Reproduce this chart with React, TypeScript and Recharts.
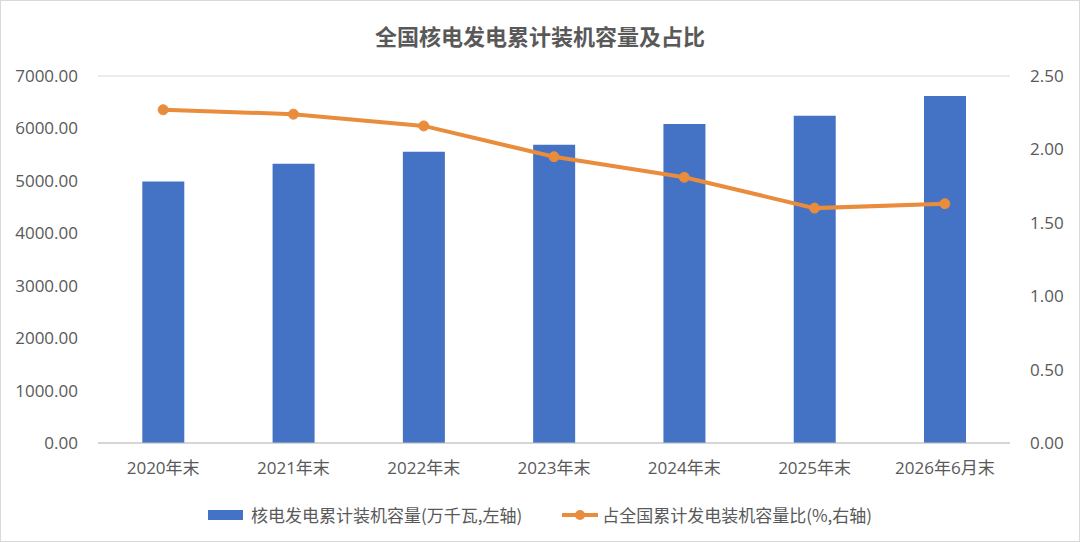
import { ComposedChart, Bar, Line, XAxis, YAxis, CartesianGrid } from 'recharts';

const categories = ['2020年末', '2021年末', '2022年末', '2023年末', '2024年末', '2025年末', '2026年6月末'];
const capacity = [4989, 5326, 5553, 5691, 6083, 6240, 6618];
const share = [2.27, 2.24, 2.16, 1.95, 1.81, 1.6, 1.63];
const leftTicks = [0, 1000, 2000, 3000, 4000, 5000, 6000, 7000];
const rightTicks = [0, 0.5, 1, 1.5, 2, 2.5];

const BAR_NAME = '核电发电累计装机容量(万千瓦,左轴)';
const LINE_NAME = '占全国累计发电装机容量比(%,右轴)';

const data = categories.map((c, i) => ({ name: c, capacity: capacity[i], share: share[i] }));

const FONT = "'Open Sans', 'Noto Sans CJK SC', sans-serif";
const tickStyle = { fill: '#595959', fontSize: 17, fontFamily: FONT };

export default function App() {
  return (
    <div style={{ position: 'relative', width: 1080, height: 542, background: '#fff', fontFamily: FONT }}>
      <style>{'body{margin:0}'}</style>
      <div
        style={{
          position: 'absolute', top: 21, left: 0, width: 1080, textAlign: 'center', lineHeight: '28px',
          fontSize: 22, fontWeight: 700, color: '#595959', fontFamily: "'Noto Sans CJK SC', sans-serif",
        }}
      >
        全国核电发电累计装机容量及占比
      </div>
      <ComposedChart width={1080} height={542} data={data} margin={{ top: 76, right: 0, bottom: 69, left: 0 }} barCategoryGap="34%">
        <CartesianGrid stroke="#d9d9d9" vertical={false} />
        <XAxis
          dataKey="name"
          height={30}
          tick={tickStyle}
          tickLine={false}
          axisLine={{ stroke: '#bfbfbf' }}
          tickSize={0}
          tickMargin={19}
        />
        <YAxis
          yAxisId="left"
          width={98}
          domain={[0, 7000]}
          ticks={leftTicks}
          tickFormatter={(v: number) => v.toFixed(2)}
          tick={tickStyle}
          axisLine={false}
          tickLine={false}
          tickSize={0}
          tickMargin={20}
        />
        <YAxis
          yAxisId="right"
          orientation="right"
          width={70}
          domain={[0, 2.5]}
          ticks={rightTicks}
          tickFormatter={(v: number) => v.toFixed(2)}
          tick={{ ...tickStyle, textAnchor: 'start' }}
          axisLine={false}
          tickLine={false}
          tickSize={0}
          tickMargin={20}
        />
        <Bar yAxisId="left" dataKey="capacity" name={BAR_NAME} fill="#4472C4" isAnimationActive={false} />
        <Line
          yAxisId="right"
          dataKey="share"
          name={LINE_NAME}
          stroke="#E98C3C"
          strokeWidth={4}
          dot={{ r: 5, fill: '#E98C3C', stroke: '#E98C3C', strokeWidth: 1 }}
          isAnimationActive={false}
        />
      </ComposedChart>
      <div
        style={{
          position: 'absolute', top: 502, left: 0, width: 1080, display: 'flex', justifyContent: 'center',
          alignItems: 'center', gap: 40, fontSize: 17, color: '#595959', fontFamily: "'Noto Sans CJK SC', sans-serif",
        }}
      >
        <div style={{ display: 'flex', alignItems: 'center', gap: 8 }}>
          <span style={{ width: 35, height: 10, background: '#4472C4', display: 'inline-block' }} />
          <span>{BAR_NAME}</span>
        </div>
        <div style={{ display: 'flex', alignItems: 'center', gap: 4 }}>
          <svg width={36} height={12}>
            <line x1={0} y1={6} x2={36} y2={6} stroke="#E98C3C" strokeWidth={4} />
            <circle cx={18} cy={6} r={5} fill="#E98C3C" />
          </svg>
          <span>{LINE_NAME}</span>
        </div>
      </div>
      <div style={{ position: 'absolute', inset: 0, border: '1px solid #d9d9d9', pointerEvents: 'none' }} />
    </div>
  );
}
